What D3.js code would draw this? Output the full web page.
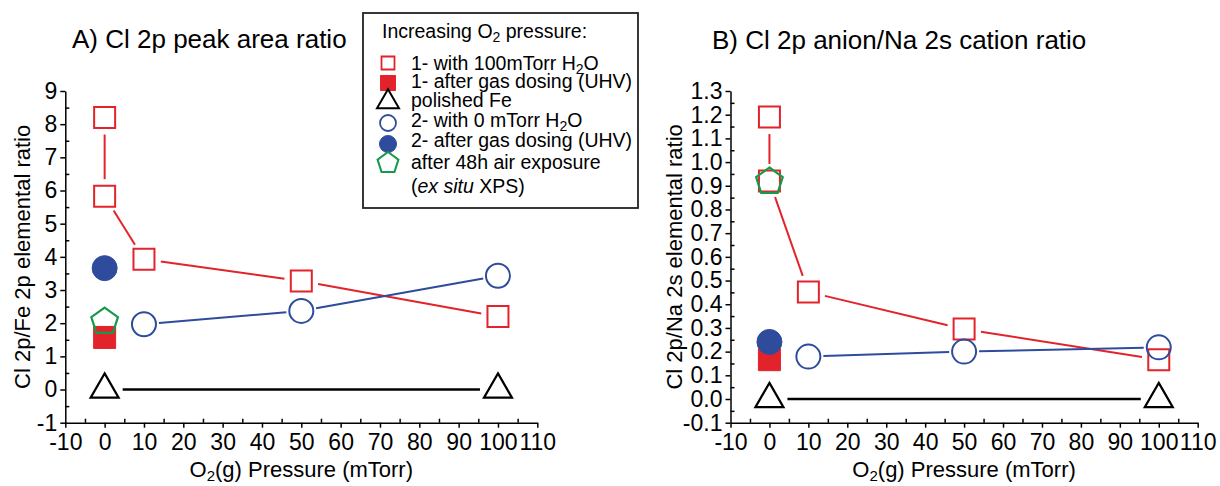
<!DOCTYPE html>
<html>
<head>
<meta charset="utf-8">
<script src="https://cdn.jsdelivr.net/npm/d3@7"></script>
<style>
  body { margin: 0; background: #fff; }
  text { font-family: "Liberation Sans", Arial, sans-serif; fill: #000; }
</style>
</head>
<body>
<svg id="chart" width="1220" height="486"></svg>
<script>
// x values (O2 pressure, mTorr)
const pWithH2O = [0, 0, 10, 50, 100];
const pNoH2O = [10, 50, 100];
const pFe = [0, 100];
const pDosed = [0];

// Panel A: Cl 2p / Fe 2p
const aWithH2O = [8.2, 5.83, 3.93, 3.27, 2.2];
const aNoH2O = [1.97, 2.37, 3.43];
const aFe = [0, 0];
const aDosed1 = [1.57];
const aDosed2 = [3.66];
const aAir = [2.05];

// Panel B: Cl 2p / Na 2s
const bWithH2O = [1.19, 0.92, 0.452, 0.295, 0.166];
const bNoH2O = [0.179, 0.2, 0.218];
const bFe = [0, 0];
const bDosed1 = [0.166];
const bDosed2 = [0.241];
const bAir = [0.918];

// tick labels
const xTicks = [-10, 0, 10, 20, 30, 40, 50, 60, 70, 80, 90, 100, 110];
const aTicks = [-1, 0, 1, 2, 3, 4, 5, 6, 7, 8, 9];
const bTicks = [-0.1, 0.0, 0.1, 0.2, 0.3, 0.4, 0.5, 0.6, 0.7, 0.8, 0.9, 1.0, 1.1, 1.2, 1.3];

const legendRows = [
  { sym: "sqOpen", parts: [["1- with 100mTorr H"], ["2", "sub"], ["O"]] },
  { sym: "sqFill", parts: [["1- after gas dosing (UHV)"]] },
  { sym: "tri", parts: [[" polished Fe"]] },
  { sym: "cirOpen", parts: [["2- with 0 mTorr H"], ["2", "sub"], ["O"]] },
  { sym: "cirFill", parts: [["2- after gas dosing (UHV)"]] },
  { sym: "pent", parts: [["after 48h air exposure"]] },
  { sym: null, parts: [["("], ["ex situ", "it"], [" XPS)"]] }
];

const RED = "#e3232b", BLUE = "#2f4c9c", GREEN = "#16994a";

const svg = d3.select("#chart");

// marker shapes
function shapePath(type, s) {
  if (type === "square") return `M${-s / 2},${-s / 2}h${s}v${s}h${-s}Z`;
  if (type === "circle") return d3.symbol(d3.symbolCircle, Math.PI * s * s / 4)();
  if (type === "triangle") return d3.symbol(d3.symbolTriangle, s * s * Math.sqrt(3) / 4)();
  if (type === "pentagon") {
    const r = s / 2;
    const pts = d3.range(5).map(k => {
      const a = -Math.PI / 2 + k * 2 * Math.PI / 5;
      return [r * Math.cos(a), r * Math.sin(a)];
    });
    return "M" + pts.map(p => p.join(",")).join("L") + "Z";
  }
}

// line with small gaps next to each marker
function gapLine(g, pts, gap, color, w) {
  for (let i = 0; i < pts.length - 1; i++) {
    const [x1, y1] = pts[i], [x2, y2] = pts[i + 1];
    const len = Math.hypot(x2 - x1, y2 - y1);
    if (len <= 2 * gap) continue;
    const ux = (x2 - x1) / len, uy = (y2 - y1) / len;
    g.append("line")
      .attr("x1", x1 + ux * gap).attr("y1", y1 + uy * gap)
      .attr("x2", x2 - ux * gap).attr("y2", y2 - uy * gap)
      .attr("stroke", color).attr("stroke-width", w);
  }
}

function markers(g, pts, type, size, stroke, fill, sw) {
  g.selectAll(null).data(pts).enter().append("path")
    .attr("transform", d => `translate(${d[0]},${d[1]})`)
    .attr("d", shapePath(type, size))
    .attr("fill", fill)
    .attr("stroke", stroke)
    .attr("stroke-width", sw);
}

const dashFmt = f => v => (v < -1e-9 ? "-" + f(-v) : f(Math.abs(v)));

function drawPanel(cfg) {
  const g = svg.append("g");
  const x = d3.scaleLinear().domain([-10, 110]).range(cfg.xRange);
  const y = d3.scaleLinear().domain(cfg.yDomain).range([422.7, 91]);
  const pts = (xs, ys) => xs.map((v, i) => [x(v), y(ys[i])]);

  // minor ticks (inside)
  g.append("g")
    .attr("transform", `translate(0,${y.range()[0]})`)
    .call(d3.axisBottom(x).tickValues(d3.range(-5, 110, 10)).tickSize(-4).tickSizeOuter(0).tickFormat(""))
    .call(a => a.select(".domain").remove());
  g.append("g")
    .attr("transform", `translate(${x.range()[0]},0)`)
    .call(d3.axisLeft(y).tickValues(cfg.yMinor).tickSize(-4).tickSizeOuter(0).tickFormat(""))
    .call(a => a.select(".domain").remove());

  // major axes
  const xa = g.append("g")
    .attr("transform", `translate(0,${y.range()[0]})`)
    .call(d3.axisBottom(x).tickValues(xTicks).tickSize(5).tickSizeOuter(0).tickPadding(6).tickFormat(dashFmt(d3.format("d"))));
  const ya = g.append("g")
    .attr("transform", `translate(${x.range()[0]},0)`)
    .call(d3.axisLeft(y).tickValues(cfg.yTicks).tickSize(5).tickSizeOuter(0).tickPadding(3).tickFormat(dashFmt(cfg.fmt)));
  [xa, ya].forEach(a => {
    a.selectAll("path,line").attr("stroke", "#000").attr("stroke-width", 1.5);
    a.selectAll("text").attr("font-size", 23).attr("fill", "#000")
      .style("font-family", '"Liberation Sans", Arial, sans-serif');
  });
  g.selectAll(".tick line").attr("stroke", "#000").attr("stroke-width", 1.5);

  // lines
  gapLine(g, pts(pFe, cfg.fe), 18, "#000", 2.6);
  gapLine(g, pts(pWithH2O, cfg.withH2O), 17, RED, 2);
  gapLine(g, pts(pNoH2O, cfg.noH2O), 15, BLUE, 2);

  // markers
  markers(g, pts(pFe, cfg.fe), "triangle", 28, "#000", "none", 2.2);
  markers(g, pts(pWithH2O, cfg.withH2O), "square", 21, RED, "none", 2);
  markers(g, pts(pNoH2O, cfg.noH2O), "circle", 24, BLUE, "none", 2);
  markers(g, pts(pDosed, cfg.dosed1), "square", 22, RED, RED, 1);
  markers(g, pts(pDosed, cfg.dosed2), "circle", 25, BLUE, BLUE, 1);
  markers(g, pts(pDosed, cfg.air), "pentagon", 28, GREEN, "none", 2.2);

  // titles
  g.append("text").attr("x", cfg.titleX).attr("y", cfg.titleY)
    .attr("font-size", 26).text(cfg.title);

  const xt = g.append("text")
    .attr("x", (x.range()[0] + x.range()[1]) / 2).attr("y", 477)
    .attr("text-anchor", "middle").attr("font-size", 22);
  xt.append("tspan").text("O");
  xt.append("tspan").attr("font-size", 15).attr("dy", 4).text("2");
  xt.append("tspan").attr("dy", -4).text("(g) Pressure (mTorr)");

  g.append("text")
    .attr("transform", `translate(${cfg.yTitleX},${(y.range()[0] + y.range()[1]) / 2}) rotate(-90)`)
    .attr("text-anchor", "middle").attr("font-size", 22)
    .text(cfg.yTitle);
}

drawPanel({
  xRange: [65.3, 537.3], yDomain: [-1, 9], yTicks: aTicks,
  yMinor: d3.range(-0.5, 9, 1), fmt: d3.format("d"),
  withH2O: aWithH2O, noH2O: aNoH2O, fe: aFe, dosed1: aDosed1, dosed2: aDosed2, air: aAir,
  title: "A) Cl 2p peak area ratio", titleX: 72, titleY: 48,
  yTitle: "Cl 2p/Fe 2p elemental ratio", yTitleX: 30
});

drawPanel({
  xRange: [730.5, 1197.7], yDomain: [-0.1, 1.3], yTicks: bTicks,
  yMinor: d3.range(-0.05, 1.3, 0.1), fmt: d3.format(".1f"),
  withH2O: bWithH2O, noH2O: bNoH2O, fe: bFe, dosed1: bDosed1, dosed2: bDosed2, air: bAir,
  title: "B) Cl 2p anion/Na 2s cation ratio", titleX: 712, titleY: 49,
  yTitle: "Cl 2p/Na 2s elemental ratio", yTitleX: 682
});

// legend
const leg = svg.append("g");
leg.append("rect").attr("x", 363).attr("y", 13).attr("width", 275).attr("height", 195)
  .attr("fill", "#fff").attr("stroke", "#222").attr("stroke-width", 1.8);

const head = leg.append("text").attr("x", 382).attr("y", 38).attr("font-size", 19.5);
head.append("tspan").text("Increasing O");
head.append("tspan").attr("font-size", 14).attr("dy", 4).text("2");
head.append("tspan").attr("dy", -4).text(" pressure:");

const rowBase = [70, 88, 107, 127, 147, 169, 193];
const symY = [63, 83, 102, 123, 144, 163];
const symStyle = {
  sqOpen: ["square", 13, RED, "none", 1.8],
  sqFill: ["square", 15, RED, RED, 1],
  tri: ["triangle", 22, "#000", "none", 2],
  cirOpen: ["circle", 16, BLUE, "none", 1.8],
  cirFill: ["circle", 17, BLUE, BLUE, 1],
  pent: ["pentagon", 22, GREEN, "none", 2]
};
legendRows.forEach((r, i) => {
  if (r.sym) {
    const [t, s, st, f, sw] = symStyle[r.sym];
    markers(leg, [[388, symY[i]]], t, s, st, f, sw);
  }
  const t = leg.append("text").attr("x", 411).attr("y", rowBase[i]).attr("font-size", 19.5);
  let shifted = false;
  r.parts.forEach(([txt, kind]) => {
    const sp = t.append("tspan").text(txt);
    if (kind === "sub") { sp.attr("font-size", 14).attr("dy", 4); shifted = true; }
    else if (shifted) { sp.attr("dy", -4); shifted = false; }
    if (kind === "it") sp.attr("font-style", "italic");
  });
});
</script>
</body>
</html>
